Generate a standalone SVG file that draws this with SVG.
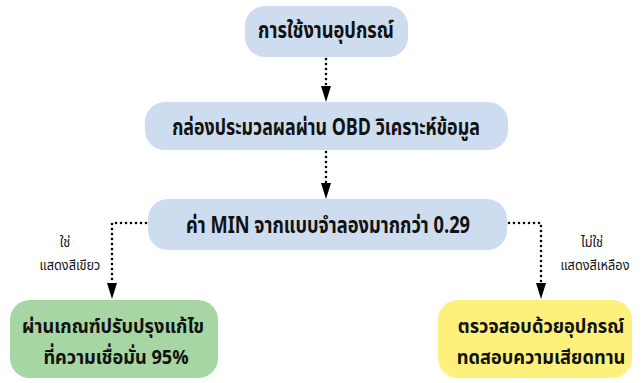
<svg xmlns="http://www.w3.org/2000/svg" width="642" height="383" viewBox="0 0 642 383">
<style>
.blue{fill:#cddcef}
.green{fill:#a6d6a3}
.yellow{fill:#fdf17b}
.t{font-family:"Noto Sans Thai","Noto Sans","DejaVu Sans",sans-serif;font-weight:bold;font-size:22px;fill:#111;text-anchor:middle}
.t2{font-family:"Noto Sans Thai","Noto Sans","DejaVu Sans",sans-serif;font-weight:bold;font-size:20px;fill:#111;text-anchor:middle}
.lbl{font-family:"Noto Sans Thai","Noto Sans","DejaVu Sans",sans-serif;font-size:15px;fill:#111;text-anchor:middle}
.c{fill:none;stroke:#000;stroke-width:2.6;stroke-linecap:round;stroke-dasharray:0 5}
.ah{fill:#000}
</style>
<rect width="642" height="383" fill="#fff"/>
<g id="connectors">
<line class="c" x1="326" y1="59" x2="326" y2="86"/>
<path class="ah" d="M321 86 L331 86 L326 102 Z"/>
<line class="c" x1="326" y1="152" x2="326" y2="183"/>
<path class="ah" d="M321 183 L331 183 L326 199 Z"/>
<polyline class="c" points="146,223 112,223 112,283"/>
<path class="ah" d="M107 283 L117 283 L112 299 Z"/>
<polyline class="c" points="509,223 541,223 541,283"/>
<path class="ah" d="M536 283 L546 283 L541 299 Z"/>
</g>
<g id="n1">
<rect class="blue" x="245" y="6" width="163" height="51" rx="20"/>
<text class="t" transform="translate(326,38) scale(0.83,1.05)">การใช้งานอุปกรณ์</text>
</g>
<g id="n2">
<rect class="blue" x="145" y="102" width="363" height="48" rx="20"/>
<text class="t" transform="translate(326,135) scale(0.81,1.05)">กล่องประมวลผลผ่าน OBD วิเคราะห์ข้อมูล</text>
</g>
<g id="n3">
<rect class="blue" x="148" y="199" width="359" height="51" rx="20"/>
<text class="t" transform="translate(328,233) scale(0.83,1.05)">ค่า MIN จากแบบจำลองมากกว่า 0.29</text>
</g>
<g id="lblYes">
<text class="lbl" transform="translate(65,247) scale(0.85,1)">ใช่</text>
<text class="lbl" transform="translate(70,270) scale(0.85,1)">แสดงสีเขียว</text>
</g>
<g id="lblNo">
<text class="lbl" transform="translate(592,247) scale(0.85,1)">ไม่ใช่</text>
<text class="lbl" transform="translate(595,270) scale(0.85,1)">แสดงสีเหลือง</text>
</g>
<g id="n4">
<rect class="green" x="10" y="300" width="208" height="78" rx="20"/>
<text class="t2" transform="translate(113,333) scale(0.91,1)">ผ่านเกณฑ์ปรับปรุงแก้ไข</text>
<text class="t2" transform="translate(116,364) scale(0.91,1)">ที่ความเชื่อมั่น 95%</text>
</g>
<g id="n5">
<rect class="yellow" x="438" y="300" width="194" height="78" rx="20"/>
<text class="t2" transform="translate(541,333) scale(0.91,1)">ตรวจสอบด้วยอุปกรณ์</text>
<text class="t2" transform="translate(541,364) scale(0.91,1)">ทดสอบความเสียดทาน</text>
</g>
</svg>
